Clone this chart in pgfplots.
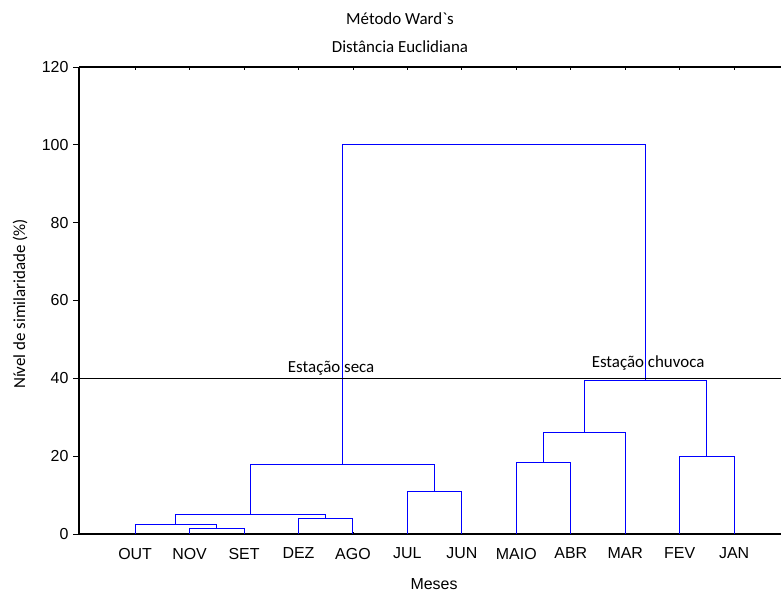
\documentclass[border=0pt]{standalone}
\usepackage{pgfplots}
\pgfplotsset{compat=1.18}
\usepackage{fontspec}
\setmainfont{Liberation Sans}
\newfontfamily\calfont{Carlito}[Ligatures=TeXOff]
\definecolor{dblue}{RGB}{0,0,255}
\begin{document}
\begin{tikzpicture}
\useasboundingbox (0,0) rectangle (781bp,-592bp);
\begin{axis}[
  at={(79bp,-534bp)}, anchor=south west,
  scale only axis, width=702bp, height=467bp,
  xmin=-0.03, xmax=12.86, ymin=0, ymax=120,
  separate axis lines,
  axis x line=box, axis y line=left,
  x axis line style={-, line width=1.1bp},
  y axis line style={-, line width=1.1bp},
  clip=false,
  tick align=inside,
  major tick length=2.5bp, minor tick length=2.5bp,
  tick style={black, line width=0.8bp},
  xtick={1,...,12},
  xticklabels={OUT,NOV,SET,DEZ,AGO,JUL,JUN,MAIO,ABR,MAR,FEV,JAN},
  ytick=\empty,
  minor ytick={4,8,12,16,24,28,32,36,44,48,52,56,64,68,72,76,84,88,92,96,104,108,112,116},
  extra y ticks={0,20,40,60,80,100,120},
  extra tick style={tick align=outside, major tick length=6bp},
  /pgf/number format/assume math mode=true,
  ticklabel style={font=\fontsize{16}{19}\selectfont},
  xticklabel style={yshift=-10.5bp},
  yticklabel style={xshift=-1bp},
]
\addplot[dblue, line width=0.9bp] coordinates {(2,0) (2,1.5) (3,1.5) (3,0)};
\addplot[dblue, line width=0.9bp] coordinates {(1,0) (1,2.5) (2.5,2.5) (2.5,1.5)};
\addplot[dblue, line width=0.9bp] coordinates {(4,0) (4,4.1) (5,4.1) (5,0)};
\addplot[dblue, line width=0.9bp] coordinates {(1.75,2.5) (1.75,4.9) (4.5,4.9) (4.5,4.1)};
\addplot[dblue, line width=0.9bp] coordinates {(6,0) (6,11.0) (7,11.0) (7,0)};
\addplot[dblue, line width=0.9bp] coordinates {(3.125,4.9) (3.125,18.0) (6.5,18.0) (6.5,11.0)};
\addplot[dblue, line width=0.9bp] coordinates {(8,0) (8,18.5) (9,18.5) (9,0)};
\addplot[dblue, line width=0.9bp] coordinates {(8.5,18.5) (8.5,26.2) (10,26.2) (10,0)};
\addplot[dblue, line width=0.9bp] coordinates {(11,0) (11,19.9) (12,19.9) (12,0)};
\addplot[dblue, line width=0.9bp] coordinates {(9.25,26.2) (9.25,39.5) (11.5,39.5) (11.5,19.9)};
\addplot[dblue, line width=0.9bp] coordinates {(4.8125,18.0) (4.8125,100) (10.375,100) (10.375,39.5)};
\addplot[black, line width=1.1bp] coordinates {(-0.03,40) (12.86,40)};
\node[font=\calfont\fontsize{17}{20}\selectfont, anchor=base] at (axis cs:4.6,41.4) {Estação seca};
\node[font=\calfont\fontsize{17}{20}\selectfont, anchor=base] at (axis cs:10.42,42.9) {Estação chuvoca};
\end{axis}
\node[font=\calfont\fontsize{17}{20}\selectfont] at (400bp,-19bp) {Método Ward`s};
\node[font=\calfont\fontsize{17}{20}\selectfont] at (400bp,-47bp) {Distância Euclidiana};
\node[font=\fontsize{16}{19}\selectfont] at (434bp,-584bp) {Meses};
\node[font=\calfont\fontsize{17}{20}\selectfont, rotate=90] at (20bp,-304bp) {Nível de similaridade (\%)};
\end{tikzpicture}
\end{document}
